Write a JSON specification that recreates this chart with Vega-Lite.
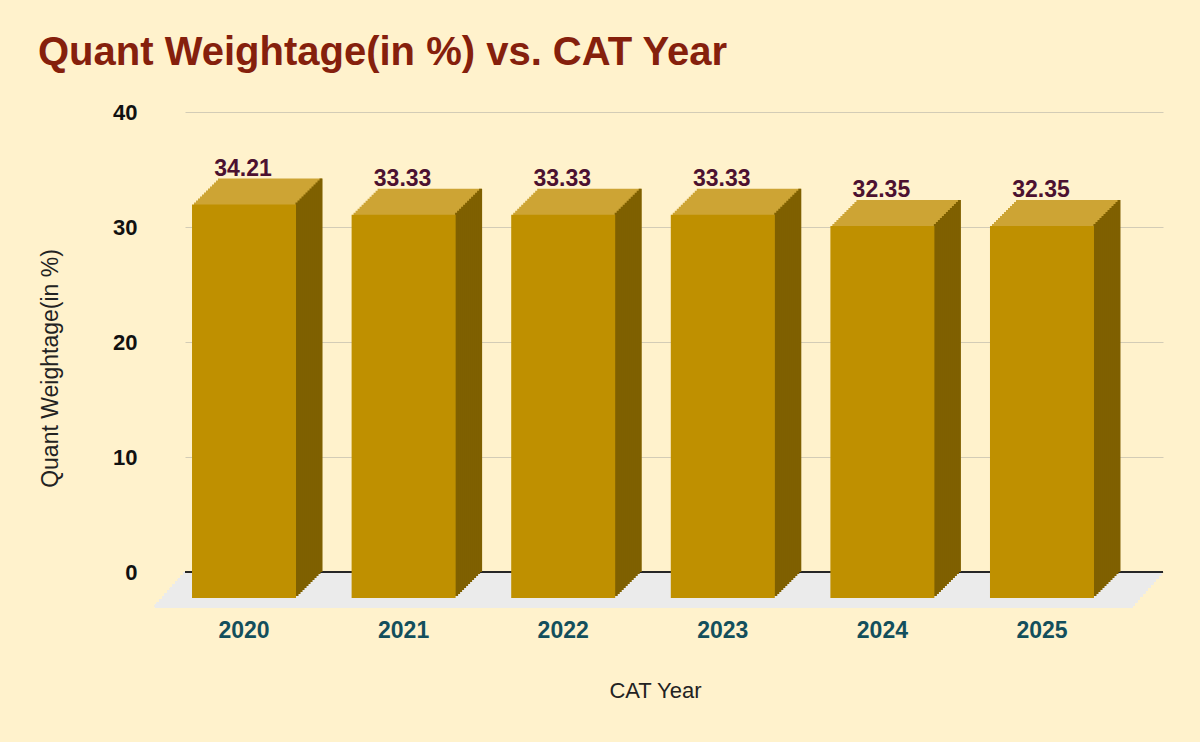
{
  "$schema": "https://vega.github.io/schema/vega-lite/v6.json",
  "width": 978,
  "height": 460,
  "autosize": "none",
  "padding": {"left": 185, "top": 112, "right": 37, "bottom": 170},
  "background": "#FFF2CC",
  "config": {
    "view": {"stroke": null},
    "font": "Liberation Sans"
  },
  "title": {
    "text": "Quant Weightage(in %) vs. CAT Year",
    "anchor": "start",
    "frame": "group",
    "font": "Liberation Sans",
    "fontSize": 40,
    "fontWeight": "bold",
    "color": "#85200C",
    "baseline": "alphabetic",
    "offset": 33,
    "dx": -147,
    "dy": 37
  },
  "data": {
    "values": [
      {"Year": "2020", "Value": 34.21},
      {"Year": "2021", "Value": 33.33},
      {"Year": "2022", "Value": 33.33},
      {"Year": "2023", "Value": 33.33},
      {"Year": "2024", "Value": 32.35},
      {"Year": "2025", "Value": 32.35}
    ]
  },
  "layer": [
    {
      "encoding": {
        "y": {"datum": 0, "type": "quantitative", "scale": {"domain": [0, 40], "nice": false}},
        "x": {"value": 0},
        "x2": {"value": "width"}
      },
      "layer": [
        {"mark": {"type": "rule", "color": "#EBEBEB", "strokeWidth": 3.4, "yOffset": 2, "xOffset": -1.8, "x2Offset": -1.8}},
        {"mark": {"type": "rule", "color": "#EBEBEB", "strokeWidth": 3.4, "yOffset": 5, "xOffset": -4.4, "x2Offset": -4.4}},
        {"mark": {"type": "rule", "color": "#EBEBEB", "strokeWidth": 3.4, "yOffset": 8, "xOffset": -7.1, "x2Offset": -7.1}},
        {"mark": {"type": "rule", "color": "#EBEBEB", "strokeWidth": 3.4, "yOffset": 11, "xOffset": -9.7, "x2Offset": -9.7}},
        {"mark": {"type": "rule", "color": "#EBEBEB", "strokeWidth": 3.4, "yOffset": 14, "xOffset": -12.4, "x2Offset": -12.4}},
        {"mark": {"type": "rule", "color": "#EBEBEB", "strokeWidth": 3.4, "yOffset": 17, "xOffset": -15.1, "x2Offset": -15.1}},
        {"mark": {"type": "rule", "color": "#EBEBEB", "strokeWidth": 3.4, "yOffset": 20, "xOffset": -17.7, "x2Offset": -17.7}},
        {"mark": {"type": "rule", "color": "#EBEBEB", "strokeWidth": 3.4, "yOffset": 23, "xOffset": -20.4, "x2Offset": -20.4}},
        {"mark": {"type": "rule", "color": "#EBEBEB", "strokeWidth": 3.4, "yOffset": 26, "xOffset": -23, "x2Offset": -23}},
        {"mark": {"type": "rule", "color": "#EBEBEB", "strokeWidth": 3.4, "yOffset": 29, "xOffset": -25.7, "x2Offset": -25.7}},
        {"mark": {"type": "rule", "color": "#EBEBEB", "strokeWidth": 3.4, "yOffset": 32, "xOffset": -28.3, "x2Offset": -28.3}},
        {"mark": {"type": "rule", "color": "#EBEBEB", "strokeWidth": 3.4, "yOffset": 34, "xOffset": -30.1, "x2Offset": -30.1}},
        {"mark": {"type": "rule", "color": "#262626", "strokeWidth": 2}}
      ]
    },
    {
      "encoding": {
        "x": {
          "field": "Year",
          "type": "nominal",
          "sort": null,
          "scale": {"paddingInner": 0, "paddingOuter": 0.064},
          "axis": {
            "title": "CAT Year",
            "labelAngle": 0,
            "ticks": false,
            "tickSize": 0,
            "domain": false,
            "grid": false,
            "labelOffset": -31,
            "labelPadding": 47,
            "labelFont": "Liberation Sans",
            "labelFontSize": 23,
            "labelFontWeight": "bold",
            "labelColor": "#134F5C",
            "titleFont": "Liberation Sans",
            "titleFontSize": 22,
            "titleFontWeight": "normal",
            "titleColor": "#222222",
            "titleX": 470,
            "titlePadding": 38
          }
        },
        "y": {
          "field": "Value",
          "type": "quantitative",
          "scale": {"domain": [0, 40], "nice": false},
          "axis": {
            "title": "Quant Weightage(in %)",
            "values": [0, 10, 20, 30, 40],
            "ticks": false,
            "tickSize": 0,
            "domain": false,
            "grid": true,
            "gridColor": "#D3CCB6",
            "gridWidth": 1,
            "labelPadding": 48,
            "labelFont": "Liberation Sans",
            "labelFontSize": 22,
            "labelFontWeight": "bold",
            "labelColor": "#111111",
            "titleFont": "Liberation Sans",
            "titleFontSize": 23,
            "titleFontWeight": "normal",
            "titleColor": "#222222",
            "titleY": 256,
            "titlePadding": 50
          }
        }
      },
      "layer": [
        {"mark": {"type": "bar", "color": "#CDA434", "width": 104, "xOffset": -5, "yOffset": 0, "y2Offset": 0}},
        {"mark": {"type": "bar", "color": "#CDA434", "width": 104, "xOffset": -7, "yOffset": 2, "y2Offset": 2}},
        {"mark": {"type": "bar", "color": "#CDA434", "width": 104, "xOffset": -9, "yOffset": 4, "y2Offset": 4}},
        {"mark": {"type": "bar", "color": "#CDA434", "width": 104, "xOffset": -11, "yOffset": 6, "y2Offset": 6}},
        {"mark": {"type": "bar", "color": "#CDA434", "width": 104, "xOffset": -13, "yOffset": 8, "y2Offset": 8}},
        {"mark": {"type": "bar", "color": "#CDA434", "width": 104, "xOffset": -15, "yOffset": 10, "y2Offset": 10}},
        {"mark": {"type": "bar", "color": "#CDA434", "width": 104, "xOffset": -17, "yOffset": 12, "y2Offset": 12}},
        {"mark": {"type": "bar", "color": "#CDA434", "width": 104, "xOffset": -19, "yOffset": 14, "y2Offset": 14}},
        {"mark": {"type": "bar", "color": "#CDA434", "width": 104, "xOffset": -21, "yOffset": 16, "y2Offset": 16}},
        {"mark": {"type": "bar", "color": "#CDA434", "width": 104, "xOffset": -23, "yOffset": 18, "y2Offset": 18}},
        {"mark": {"type": "bar", "color": "#CDA434", "width": 104, "xOffset": -25, "yOffset": 20, "y2Offset": 20}},
        {"mark": {"type": "bar", "color": "#CDA434", "width": 104, "xOffset": -27, "yOffset": 22, "y2Offset": 22}},
        {"mark": {"type": "bar", "color": "#CDA434", "width": 104, "xOffset": -29, "yOffset": 24, "y2Offset": 24}},
        {"mark": {"type": "bar", "color": "#7F6000", "width": 3, "xOffset": 46, "yOffset": 0, "y2Offset": 0}},
        {"mark": {"type": "bar", "color": "#7F6000", "width": 3, "xOffset": 44, "yOffset": 2, "y2Offset": 2}},
        {"mark": {"type": "bar", "color": "#7F6000", "width": 3, "xOffset": 42, "yOffset": 4, "y2Offset": 4}},
        {"mark": {"type": "bar", "color": "#7F6000", "width": 3, "xOffset": 40, "yOffset": 6, "y2Offset": 6}},
        {"mark": {"type": "bar", "color": "#7F6000", "width": 3, "xOffset": 38, "yOffset": 8, "y2Offset": 8}},
        {"mark": {"type": "bar", "color": "#7F6000", "width": 3, "xOffset": 36, "yOffset": 10, "y2Offset": 10}},
        {"mark": {"type": "bar", "color": "#7F6000", "width": 3, "xOffset": 34, "yOffset": 12, "y2Offset": 12}},
        {"mark": {"type": "bar", "color": "#7F6000", "width": 3, "xOffset": 32, "yOffset": 14, "y2Offset": 14}},
        {"mark": {"type": "bar", "color": "#7F6000", "width": 3, "xOffset": 30, "yOffset": 16, "y2Offset": 16}},
        {"mark": {"type": "bar", "color": "#7F6000", "width": 3, "xOffset": 28, "yOffset": 18, "y2Offset": 18}},
        {"mark": {"type": "bar", "color": "#7F6000", "width": 3, "xOffset": 26, "yOffset": 20, "y2Offset": 20}},
        {"mark": {"type": "bar", "color": "#7F6000", "width": 3, "xOffset": 24, "yOffset": 22, "y2Offset": 22}},
        {"mark": {"type": "bar", "color": "#7F6000", "width": 3, "xOffset": 22, "yOffset": 24, "y2Offset": 24}},
        {"mark": {"type": "bar", "color": "#BF9000", "width": 104, "xOffset": -31, "yOffset": 26, "y2Offset": 26}},
        {
          "mark": {"type": "text", "font": "Liberation Sans", "fontSize": 23, "fontWeight": "bold", "color": "#4C1130", "xOffset": -32, "yOffset": -3, "baseline": "alphabetic"},
          "encoding": {"text": {"field": "Value", "type": "quantitative", "format": ".2f"}}
        }
      ]
    }
  ]
}
